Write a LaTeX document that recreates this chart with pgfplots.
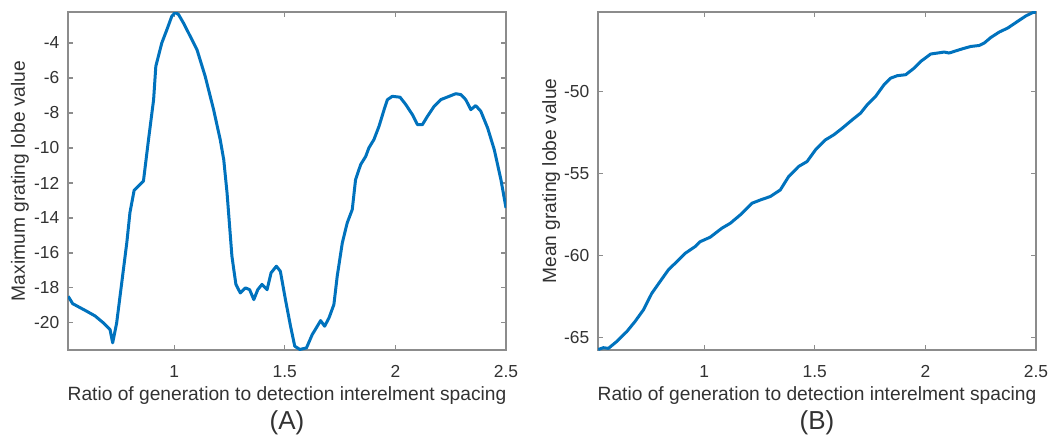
\documentclass[border=0pt]{standalone}
\usepackage{fontspec}
\setmainfont{Liberation Sans}
\usepackage{pgfplots}
\pgfplotsset{compat=1.18}
\definecolor{mblue}{RGB}{0,114,189}
\definecolor{axgray}{RGB}{140,140,140}
\definecolor{txt}{RGB}{50,50,50}
\pgfplotsset{
  mystyle/.style={
    scale only axis, width=219pt, height=169pt,
    anchor=south west,
    xmin=0.52, xmax=2.5,
    xtick={1,1.5,2,2.5},
    xticklabels={1,1.5,2,2.5},
    tick align=inside,
    major tick length=2.5pt,
    axis line style={axgray, line width=0.6pt},
    tick style={axgray, line width=0.6pt},
    /pgf/number format/assume math mode=true,
    ticklabel style={font=\fontsize{8.7}{10}\selectfont, text=txt},
    xticklabel style={yshift=-4.3pt},
    yticklabel style={xshift=-0.8pt},
    label style={font=\fontsize{9.6}{11}\selectfont, text=txt},
    xlabel={Ratio of generation to detection interelment spacing},
    xlabel style={at={(axis description cs:0.5,-0.148)}, anchor=base},
    clip mode=individual,
  },
  myline/.style={mblue, line width=1.5pt, line join=round, no marks},
}
\begin{document}
\begin{tikzpicture}
\useasboundingbox (0,0) rectangle (524pt,217pt);
\begin{axis}[mystyle, at={(34pt,42pt)},
  ymin=-21.55, ymax=-2.23,
  ytick={-20,-18,-16,-14,-12,-10,-8,-6,-4},
  yticklabels={-20,-18,-16,-14,-12,-10,-8,-6,-4},
  ylabel={Maximum grating lobe value},
  ylabel style={at={(axis description cs:-0.11,0.5)}, anchor=center, rotate=0},
]
\addplot[myline] coordinates {
(0.521,-18.48)(0.541,-18.9)(0.604,-19.33)(0.642,-19.6)(0.68,-20.0)(0.71,-20.38)
(0.722,-21.14)(0.74,-20.0)(0.763,-17.7)(0.786,-15.4)(0.80,-13.7)(0.819,-12.42)
(0.861,-11.9)(0.884,-9.52)(0.907,-7.24)(0.917,-5.33)(0.944,-4.0)(0.967,-3.24)
(0.989,-2.48)(1.005,-2.25)(1.02,-2.38)(1.042,-2.86)(1.065,-3.43)(1.103,-4.38)
(1.14,-5.9)(1.178,-7.8)(1.208,-9.52)(1.224,-10.67)(1.239,-12.57)(1.261,-16.19)
(1.279,-17.8)(1.299,-18.29)(1.322,-18.0)(1.341,-18.1)(1.36,-18.67)(1.378,-18.1)
(1.397,-17.8)(1.42,-18.1)(1.438,-17.14)(1.462,-16.76)(1.48,-17.05)(1.503,-18.67)
(1.526,-20.19)(1.545,-21.33)(1.568,-21.52)(1.598,-21.43)(1.624,-20.67)(1.647,-20.19)
(1.662,-19.87)(1.68,-20.19)(1.7,-19.71)(1.722,-18.95)(1.737,-17.33)(1.76,-15.43)
(1.782,-14.29)(1.805,-13.52)(1.82,-11.81)(1.843,-10.95)(1.866,-10.48)(1.88,-10.0)
(1.903,-9.52)(1.926,-8.76)(1.949,-7.81)(1.964,-7.24)(1.986,-7.05)(2.021,-7.1)
(2.047,-7.52)(2.077,-8.1)(2.1,-8.67)(2.122,-8.67)(2.145,-8.19)(2.175,-7.62)
(2.205,-7.24)(2.243,-7.05)(2.273,-6.9)(2.296,-6.95)(2.318,-7.24)(2.341,-7.81)
(2.363,-7.58)(2.386,-7.9)(2.417,-8.86)(2.447,-10.1)(2.477,-11.81)(2.5,-13.43)
};
\node[font=\fontsize{13}{15}\selectfont, text=txt, anchor=base] at (axis description cs:0.5,-0.234) {(A)};
\end{axis}
\begin{axis}[mystyle, at={(299pt,42pt)},
  ymin=-65.75, ymax=-45.16,
  ytick={-65,-60,-55,-50},
  yticklabels={-65,-60,-55,-50},
  ylabel={Mean grating lobe value},
  ylabel style={at={(axis description cs:-0.107,0.5)}, anchor=center},
]
\addplot[myline] coordinates {
(0.521,-65.72)(0.544,-65.61)(0.567,-65.65)(0.604,-65.24)(0.65,-64.63)(0.687,-64.02)
(0.725,-63.31)(0.763,-62.3)(0.8,-61.59)(0.838,-60.87)(0.876,-60.37)(0.914,-59.86)
(0.959,-59.45)(0.982,-59.15)(1.027,-58.88)(1.08,-58.33)(1.118,-58.03)(1.163,-57.52)
(1.216,-56.81)(1.254,-56.61)(1.299,-56.4)(1.344,-56.0)(1.382,-55.18)(1.427,-54.57)
(1.465,-54.27)(1.503,-53.56)(1.548,-52.95)(1.586,-52.64)(1.624,-52.24)(1.669,-51.73)
(1.707,-51.32)(1.737,-50.81)(1.775,-50.3)(1.813,-49.59)(1.843,-49.19)(1.873,-49.04)
(1.911,-48.98)(1.949,-48.58)(1.979,-48.17)(2.024,-47.72)(2.085,-47.6)(2.107,-47.66)
(2.13,-47.56)(2.168,-47.4)(2.205,-47.26)(2.243,-47.2)(2.266,-47.05)(2.296,-46.71)
(2.334,-46.38)(2.372,-46.14)(2.417,-45.73)(2.455,-45.39)(2.486,-45.19)(2.5,-45.17)
};
\node[font=\fontsize{13}{15}\selectfont, text=txt, anchor=base] at (axis description cs:0.5,-0.234) {(B)};
\end{axis}
\end{tikzpicture}
\end{document}
